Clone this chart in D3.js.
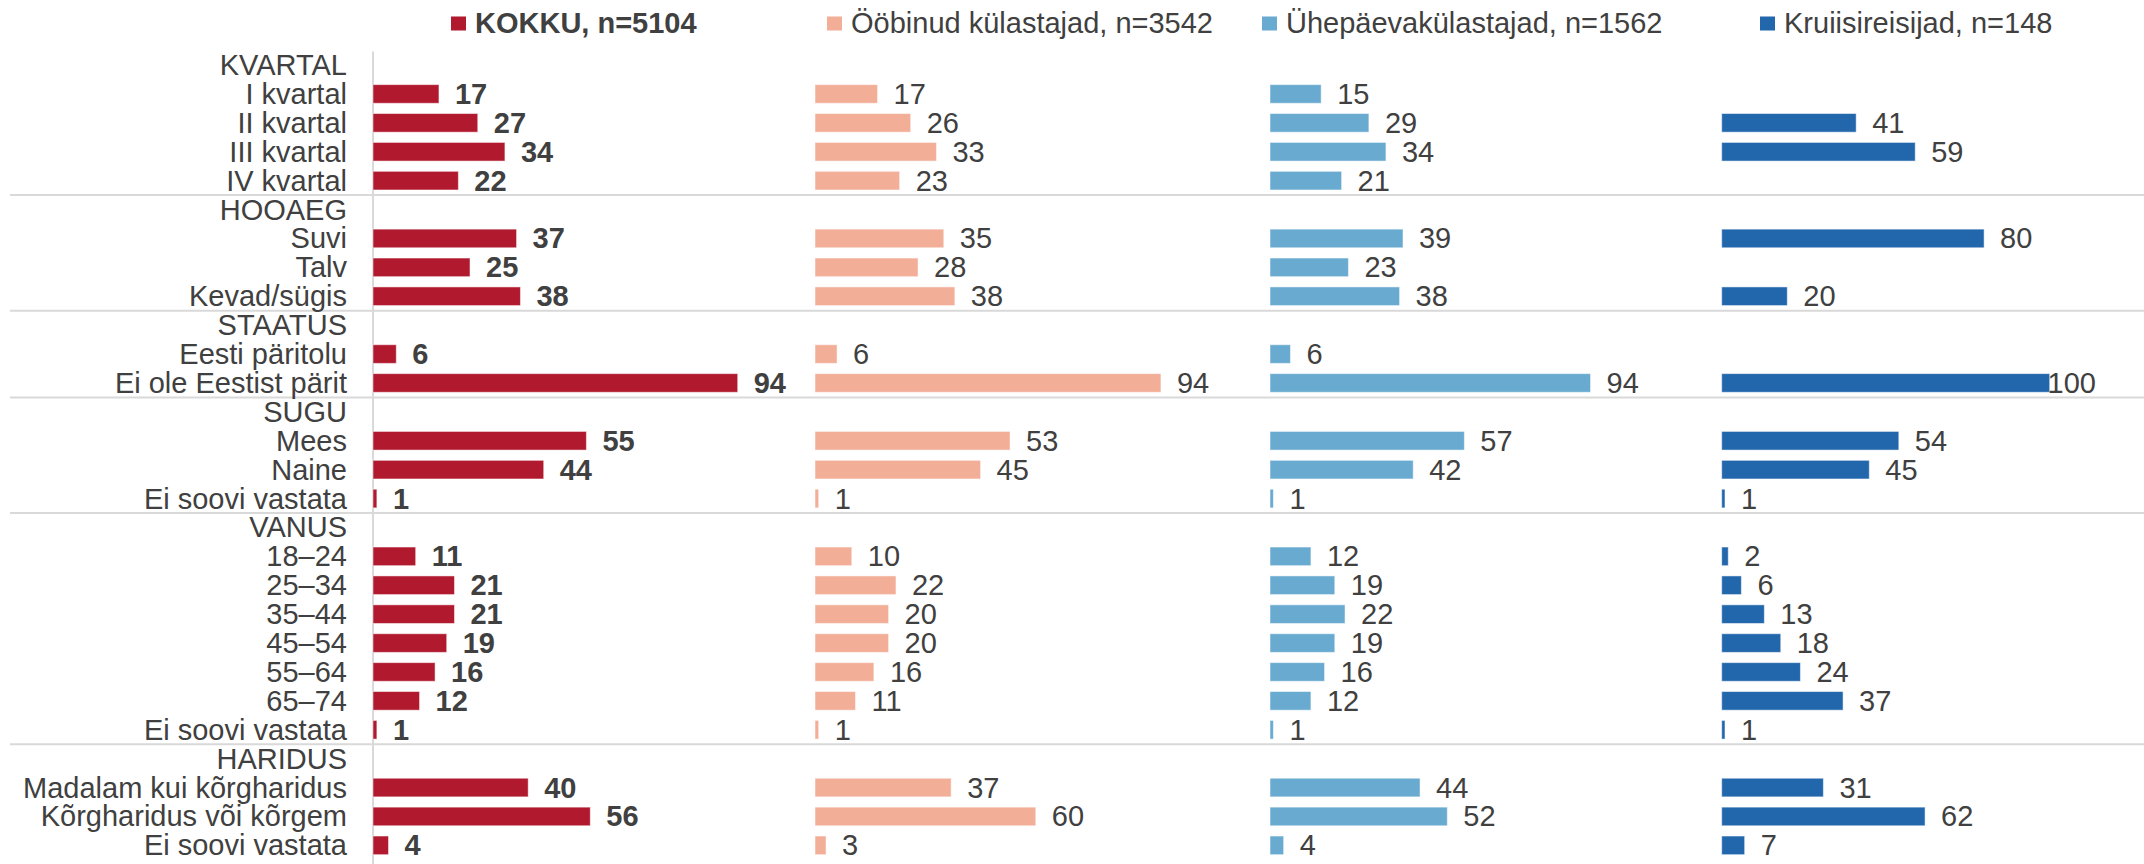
<!DOCTYPE html>
<html>
<head>
<meta charset="utf-8">
<script src="https://cdn.jsdelivr.net/npm/d3@7"></script>
<style>
  html, body { margin: 0; padding: 0; background: #ffffff; }
  svg { display: block; font-family: "Liberation Sans", Arial, sans-serif; }
</style>
</head>
<body>
<svg id="chart" width="2144" height="864"></svg>
<script>
// ---------------- DATA ----------------
const groups = ["KVARTAL", "HOOAEG", "STAATUS", "SUGU", "VANUS", "HARIDUS"];
const categories = [
  ["I kvartal", "II kvartal", "III kvartal", "IV kvartal"],
  ["Suvi", "Talv", "Kevad/sügis"],
  ["Eesti päritolu", "Ei ole Eestist pärit"],
  ["Mees", "Naine", "Ei soovi vastata"],
  ["18–24", "25–34", "35–44", "45–54", "55–64", "65–74", "Ei soovi vastata"],
  ["Madalam kui kõrgharidus", "Kõrgharidus või kõrgem", "Ei soovi vastata"]
];
const seriesNames = ["KOKKU, n=5104", "Ööbinud külastajad, n=3542", "Ühepäevakülastajad, n=1562", "Kruiisireisijad, n=148"];
const kokku = [[17, 27, 34, 22], [37, 25, 38], [6, 94], [55, 44, 1], [11, 21, 21, 19, 16, 12, 1], [40, 56, 4]];
const oobinud = [[17, 26, 33, 23], [35, 28, 38], [6, 94], [53, 45, 1], [10, 22, 20, 20, 16, 11, 1], [37, 60, 3]];
const uhepaeva = [[15, 29, 34, 21], [39, 23, 38], [6, 94], [57, 42, 1], [12, 19, 22, 19, 16, 12, 1], [44, 52, 4]];
const kruiisi = [[null, 41, 59, null], [80, null, 20], [null, 100], [54, 45, 1], [2, 6, 13, 18, 24, 37, 1], [31, 62, 7]];
const seriesValues = [kokku, oobinud, uhepaeva, kruiisi];

// ---------------- STYLE / LAYOUT ----------------
const colors = ["#B0192E", "#F3AE98", "#68AAD0", "#2266AC"];
const textColor = "#404040";
const gridColor = "#D9D9D9";
const fontSize = 29;
const panelX0 = [373, 815, 1270, 1721.7];
const panelW = [388, 368, 341, 328];
const legendTextX = [475, 851, 1286, 1784];
const plotTop = 50.6, rowStep = 28.9;
const labelRight = 347;
const chartRight = 2096;

// build rows
const rows = [];
groups.forEach((g, gi) => {
  rows.push({ id: "h" + gi, label: g, header: true, gi });
  categories[gi].forEach((c, ci) => rows.push({ id: gi + "_" + ci, label: c, header: false, gi, ci }));
});

const svg = d3.select("#chart");
const y = d3.scaleBand()
  .domain(rows.map(r => r.id))
  .range([plotTop, plotTop + rows.length * rowStep])
  .padding(0);
const barH = y.bandwidth() * 0.645;
const cy = id => y(id) + y.bandwidth() / 2;

// separators
const sepRows = rows.filter(r => r.header && r.gi > 0);
svg.append("g").selectAll("line").data(sepRows).join("line")
  .attr("x1", 10).attr("x2", 2144)
  .attr("y1", d => y(d.id)).attr("y2", d => y(d.id))
  .attr("stroke", gridColor).attr("stroke-width", 2);

// vertical category axis line (first panel)
svg.append("line")
  .attr("x1", panelX0[0]).attr("x2", panelX0[0])
  .attr("y1", plotTop + 1).attr("y2", 864)
  .attr("stroke", gridColor).attr("stroke-width", 2);

// row labels
svg.append("g").selectAll("text").data(rows).join("text")
  .attr("x", labelRight)
  .attr("y", d => cy(d.id))
  .attr("text-anchor", "end")
  .attr("dominant-baseline", "central")
  .attr("font-size", fontSize)
  .attr("fill", textColor)
  .text(d => d.label);

// panels
seriesValues.forEach((vals, si) => {
  const x = d3.scaleLinear().domain([0, 100]).range([panelX0[si], panelX0[si] + panelW[si]]);
  const pts = rows.filter(r => !r.header)
    .map(r => ({ id: r.id, v: vals[r.gi][r.ci] }))
    .filter(d => d.v !== null && d.v !== undefined);
  const g = svg.append("g");
  g.selectAll("rect").data(pts).join("rect")
    .attr("x", x(0))
    .attr("y", d => y(d.id) + (y.bandwidth() - barH) / 2)
    .attr("width", d => x(d.v) - x(0))
    .attr("height", barH)
    .attr("fill", colors[si])
    .attr("stroke", "#ffffff").attr("stroke-opacity", 0.5).attr("stroke-width", 1);
  const lab = g.selectAll("text").data(pts).join("text")
    .attr("text-anchor", "start")
    .attr("dominant-baseline", "central")
    .attr("font-size", fontSize)
    .attr("font-weight", si === 0 ? "bold" : "normal")
    .attr("fill", textColor)
    .attr("y", d => cy(d.id))
    .text(d => d.v);
  lab.each(function (d) {
    const w = this.getComputedTextLength();
    d3.select(this).attr("x", Math.min(x(d.v) + 16, chartRight - w));
  });
});

// legend
const leg = svg.append("g");
seriesNames.forEach((name, si) => {
  leg.append("rect")
    .attr("x", legendTextX[si] - 24).attr("y", 16.5)
    .attr("width", 15).attr("height", 14)
    .attr("fill", colors[si]);
  leg.append("text")
    .attr("x", legendTextX[si]).attr("y", 33)
    .attr("font-size", fontSize)
    .attr("font-weight", si === 0 ? "bold" : "normal")
    .attr("fill", textColor)
    .text(name);
});
</script>
</body>
</html>
